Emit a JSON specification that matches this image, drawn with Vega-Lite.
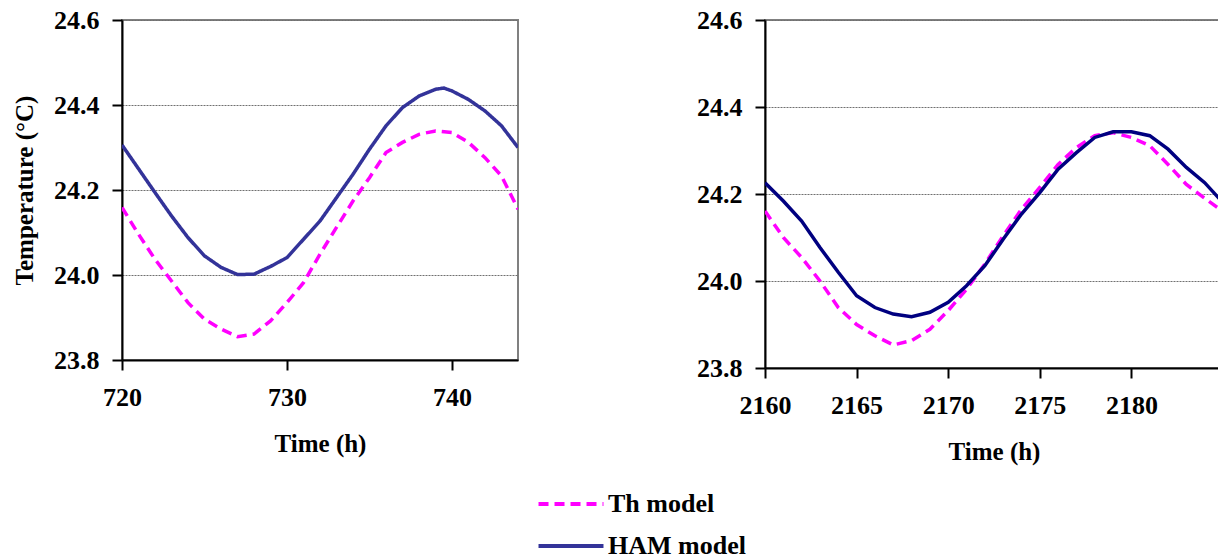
{
  "$schema": "https://vega.github.io/schema/vega-lite/v6.json",
  "padding": {"left": 11, "top": 6, "right": 0, "bottom": 0},
  "background": "white",
  "datasets": {
    "left": [
      {"t": 720, "temp": 24.306, "model": "HAM model"},
      {"t": 721, "temp": 24.250, "model": "HAM model"},
      {"t": 722, "temp": 24.194, "model": "HAM model"},
      {"t": 723, "temp": 24.139, "model": "HAM model"},
      {"t": 724, "temp": 24.088, "model": "HAM model"},
      {"t": 725, "temp": 24.045, "model": "HAM model"},
      {"t": 726, "temp": 24.018, "model": "HAM model"},
      {"t": 727, "temp": 24.001, "model": "HAM model"},
      {"t": 728, "temp": 24.002, "model": "HAM model"},
      {"t": 729, "temp": 24.020, "model": "HAM model"},
      {"t": 730, "temp": 24.041, "model": "HAM model"},
      {"t": 731, "temp": 24.084, "model": "HAM model"},
      {"t": 732, "temp": 24.127, "model": "HAM model"},
      {"t": 733, "temp": 24.182, "model": "HAM model"},
      {"t": 734, "temp": 24.237, "model": "HAM model"},
      {"t": 735, "temp": 24.296, "model": "HAM model"},
      {"t": 736, "temp": 24.351, "model": "HAM model"},
      {"t": 737, "temp": 24.394, "model": "HAM model"},
      {"t": 738, "temp": 24.421, "model": "HAM model"},
      {"t": 739, "temp": 24.437, "model": "HAM model"},
      {"t": 739.5, "temp": 24.440, "model": "HAM model"},
      {"t": 740, "temp": 24.433, "model": "HAM model"},
      {"t": 741, "temp": 24.413, "model": "HAM model"},
      {"t": 742, "temp": 24.386, "model": "HAM model"},
      {"t": 743, "temp": 24.351, "model": "HAM model"},
      {"t": 744, "temp": 24.300, "model": "HAM model"},
      {"t": 720, "temp": 24.159, "model": "Th model"},
      {"t": 721, "temp": 24.096, "model": "Th model"},
      {"t": 722, "temp": 24.037, "model": "Th model"},
      {"t": 723, "temp": 23.986, "model": "Th model"},
      {"t": 724, "temp": 23.935, "model": "Th model"},
      {"t": 725, "temp": 23.896, "model": "Th model"},
      {"t": 726, "temp": 23.873, "model": "Th model"},
      {"t": 727, "temp": 23.855, "model": "Th model"},
      {"t": 728, "temp": 23.861, "model": "Th model"},
      {"t": 729, "temp": 23.892, "model": "Th model"},
      {"t": 730, "temp": 23.935, "model": "Th model"},
      {"t": 731, "temp": 23.982, "model": "Th model"},
      {"t": 732, "temp": 24.049, "model": "Th model"},
      {"t": 733, "temp": 24.112, "model": "Th model"},
      {"t": 734, "temp": 24.174, "model": "Th model"},
      {"t": 735, "temp": 24.229, "model": "Th model"},
      {"t": 736, "temp": 24.288, "model": "Th model"},
      {"t": 737, "temp": 24.312, "model": "Th model"},
      {"t": 738, "temp": 24.331, "model": "Th model"},
      {"t": 739, "temp": 24.339, "model": "Th model"},
      {"t": 740, "temp": 24.335, "model": "Th model"},
      {"t": 741, "temp": 24.312, "model": "Th model"},
      {"t": 742, "temp": 24.276, "model": "Th model"},
      {"t": 743, "temp": 24.233, "model": "Th model"},
      {"t": 744, "temp": 24.155, "model": "Th model"}
    ],
    "right": [
      {"t": 2160, "temp": 24.226, "model": "HAM model"},
      {"t": 2161, "temp": 24.184, "model": "HAM model"},
      {"t": 2162, "temp": 24.138, "model": "HAM model"},
      {"t": 2163, "temp": 24.077, "model": "HAM model"},
      {"t": 2164, "temp": 24.020, "model": "HAM model"},
      {"t": 2165, "temp": 23.966, "model": "HAM model"},
      {"t": 2166, "temp": 23.939, "model": "HAM model"},
      {"t": 2167, "temp": 23.924, "model": "HAM model"},
      {"t": 2168, "temp": 23.918, "model": "HAM model"},
      {"t": 2169, "temp": 23.928, "model": "HAM model"},
      {"t": 2170, "temp": 23.951, "model": "HAM model"},
      {"t": 2171, "temp": 23.989, "model": "HAM model"},
      {"t": 2172, "temp": 24.035, "model": "HAM model"},
      {"t": 2173, "temp": 24.096, "model": "HAM model"},
      {"t": 2174, "temp": 24.154, "model": "HAM model"},
      {"t": 2175, "temp": 24.203, "model": "HAM model"},
      {"t": 2176, "temp": 24.257, "model": "HAM model"},
      {"t": 2177, "temp": 24.295, "model": "HAM model"},
      {"t": 2178, "temp": 24.330, "model": "HAM model"},
      {"t": 2179, "temp": 24.343, "model": "HAM model"},
      {"t": 2180, "temp": 24.343, "model": "HAM model"},
      {"t": 2181, "temp": 24.334, "model": "HAM model"},
      {"t": 2182, "temp": 24.303, "model": "HAM model"},
      {"t": 2183, "temp": 24.261, "model": "HAM model"},
      {"t": 2184, "temp": 24.226, "model": "HAM model"},
      {"t": 2185, "temp": 24.180, "model": "HAM model"},
      {"t": 2160, "temp": 24.161, "model": "Th model"},
      {"t": 2161, "temp": 24.100, "model": "Th model"},
      {"t": 2162, "temp": 24.054, "model": "Th model"},
      {"t": 2163, "temp": 24.000, "model": "Th model"},
      {"t": 2164, "temp": 23.939, "model": "Th model"},
      {"t": 2165, "temp": 23.900, "model": "Th model"},
      {"t": 2166, "temp": 23.874, "model": "Th model"},
      {"t": 2167, "temp": 23.853, "model": "Th model"},
      {"t": 2168, "temp": 23.863, "model": "Th model"},
      {"t": 2169, "temp": 23.889, "model": "Th model"},
      {"t": 2170, "temp": 23.932, "model": "Th model"},
      {"t": 2171, "temp": 23.981, "model": "Th model"},
      {"t": 2172, "temp": 24.039, "model": "Th model"},
      {"t": 2173, "temp": 24.104, "model": "Th model"},
      {"t": 2174, "temp": 24.165, "model": "Th model"},
      {"t": 2175, "temp": 24.215, "model": "Th model"},
      {"t": 2176, "temp": 24.268, "model": "Th model"},
      {"t": 2177, "temp": 24.307, "model": "Th model"},
      {"t": 2178, "temp": 24.334, "model": "Th model"},
      {"t": 2179, "temp": 24.341, "model": "Th model"},
      {"t": 2180, "temp": 24.330, "model": "Th model"},
      {"t": 2181, "temp": 24.311, "model": "Th model"},
      {"t": 2182, "temp": 24.268, "model": "Th model"},
      {"t": 2183, "temp": 24.222, "model": "Th model"},
      {"t": 2184, "temp": 24.190, "model": "Th model"},
      {"t": 2185, "temp": 24.160, "model": "Th model"}
    ]
  },
  "config": {
    "font": "Liberation Serif",
    "view": {"stroke": "#808080", "strokeWidth": 2},
    "axis": {
      "labelFont": "Liberation Serif",
      "labelFontWeight": "bold",
      "labelFontSize": 26,
      "labelColor": "black",
      "labelFlush": false,
      "titleFont": "Liberation Serif",
      "titleFontWeight": "bold",
      "titleFontSize": 25,
      "titleColor": "black",
      "domainColor": "black",
      "domainWidth": 2,
      "tickColor": "black",
      "tickWidth": 2,
      "tickSize": 10
    },
    "axisX": {"grid": false, "labelPadding": 14, "titlePadding": 21},
    "axisY": {"grid": true, "gridColor": "#707070", "gridWidth": 1, "gridDash": [2, 1], "labelPadding": 13, "titlePadding": 16},
    "legend": {
      "labelFont": "Liberation Serif",
      "labelFontWeight": "bold",
      "labelFontSize": 26,
      "labelColor": "black"
    }
  },
  "spacing": 176,
  "resolve": {"scale": {"x": "independent", "y": "independent", "color": "shared", "strokeDash": "shared"}},
  "hconcat": [
    {
      "width": 396,
      "height": 340,
      "data": {"name": "left"},
      "mark": {"type": "line", "strokeWidth": 3.5, "clip": true},
      "encoding": {
        "x": {"field": "t", "type": "quantitative", "scale": {"domain": [720, 744], "nice": false, "zero": false},
              "axis": {"values": [720, 730, 740], "format": "d", "title": "Time (h)"}},
        "y": {"field": "temp", "type": "quantitative", "scale": {"domain": [23.8, 24.6], "nice": false, "zero": false},
              "axis": {"values": [23.8, 24.0, 24.2, 24.4, 24.6], "format": ".1f", "title": "Temperature (°C)"}},
        "color": {"field": "model", "type": "nominal",
                  "scale": {"domain": ["Th model", "HAM model"], "range": ["#FF00FF", "#333399"]},
                  "legend": {"title": null, "orient": "none", "legendX": 436, "legendY": 471, "symbolType": "M-3,0H3", "symbolSize": 469, "symbolStrokeWidth": 4, "symbolFillColor": "transparent", "labelOffset": 24, "rowPadding": 16}},
        "strokeDash": {"field": "model", "type": "nominal",
                  "scale": {"domain": ["Th model", "HAM model"], "range": [[10, 6], [1, 0]]},
                  "legend": {"title": null, "orient": "none", "legendX": 436, "legendY": 471, "symbolType": "M-3,0H3", "symbolSize": 469, "symbolStrokeWidth": 4, "symbolFillColor": "transparent", "labelOffset": 24, "rowPadding": 16}}
      }
    },
    {
      "width": 458,
      "height": 348,
      "data": {"name": "right"},
      "encoding": {
        "x": {"field": "t", "type": "quantitative", "scale": {"domain": [2160, 2185], "nice": false, "zero": false},
              "axis": {"values": [2160, 2165, 2170, 2175, 2180], "format": "d", "title": "Time (h)"}},
        "y": {"field": "temp", "type": "quantitative", "scale": {"domain": [23.8, 24.6], "nice": false, "zero": false},
              "axis": {"values": [23.8, 24.0, 24.2, 24.4, 24.6], "format": ".1f", "title": null}}
      },
      "layer": [
        {"transform": [{"filter": "datum.model === 'Th model'"}],
         "mark": {"type": "line", "strokeWidth": 3.5, "color": "#FF00FF", "strokeDash": [10, 6], "clip": true}},
        {"transform": [{"filter": "datum.model === 'HAM model'"}],
         "mark": {"type": "line", "strokeWidth": 3.5, "color": "#000080", "clip": true}}
      ]
    }
  ]
}
